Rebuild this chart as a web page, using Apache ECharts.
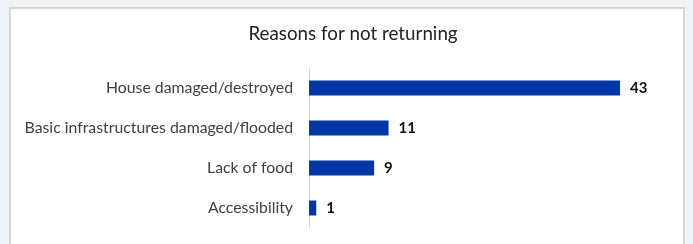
<!DOCTYPE html>
<html>
<head>
<meta charset="utf-8">
<script src="https://cdn.jsdelivr.net/npm/echarts@6/dist/echarts.min.js"></script>
<style>
  html, body { margin: 0; padding: 0; background: #eef3f8; }
  #box { position: absolute; left: 9px; top: 7px; width: 672px; height: 250px; background: #fff; border: 2px solid #d6d6d6; }
  #main { position: absolute; left: 0; top: 0; width: 693px; height: 244px; }
</style>
</head>
<body>
<div id="box"></div>
<div id="main"></div>
<script>
// categories from top to bottom
var categories = ['House damaged/destroyed', 'Basic infrastructures damaged/flooded', 'Lack of food', 'Accessibility'];
var values = [43, 11, 9, 1];

var chart = echarts.init(document.getElementById('main'));

var option = {
	backgroundColor: 'transparent',
	animation: false,
	title: {
		text: 'Reasons for not returning',
		left: 348,
		textAlign: 'center',
		top: 19,
		textStyle: { fontFamily: 'Lato', fontSize: 18.8, fontWeight: 'normal', color: '#222' }
	},
	grid: { left: 309, top: 68, width: 311, height: 160 },
	xAxis: {
		type: 'value',
		min: 0,
		max: 43,
		show: false
	},
	yAxis: {
		type: 'category',
		inverse: true,
		data: categories,
		axisLine: { lineStyle: { color: '#d9d9d9', width: 1 } },
		axisTick: { show: false },
		axisLabel: { margin: 16, fontFamily: 'Lato', fontSize: 15.8, color: '#404040' }
	},
	series: [{
		type: 'bar',
		data: values,
		barWidth: 15,
		itemStyle: { color: '#0039a6' },
		label: {
			show: true,
			position: 'right',
			distance: 10,
			fontFamily: 'Lato',
			fontSize: 15,
			fontWeight: 'bold',
			color: '#111'
		}
	}]
};

chart.setOption(option);
</script>
</body>
</html>
